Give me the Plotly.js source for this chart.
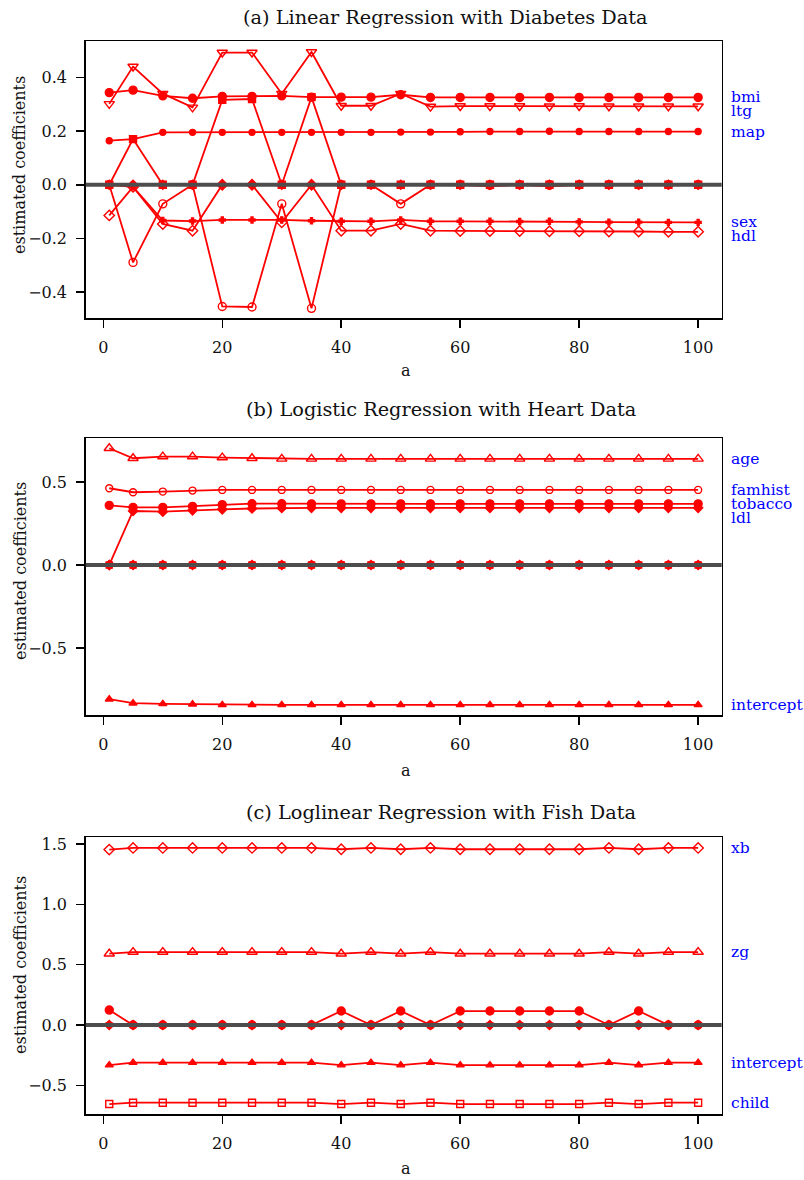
<!DOCTYPE html>
<html><head><meta charset="utf-8">
<script src="https://cdn.plot.ly/plotly-3.0.1.min.js"></script>
<style>html,body{margin:0;padding:0;background:#fff}</style>
</head><body><div id="chart" style="width:804px;height:1180px"></div>
<script>
// ---------- data ----------
const aVals = [1,5,10,15,20,25,30,35,40,45,50,55,60,65,70,75,80,85,90,95,100];

// (a) Diabetes
const diabBmi = [0.343,0.352,0.331,0.322,0.329,0.329,0.331,0.326,0.326,0.326,0.335,0.325,0.325,0.325,0.325,0.325,0.325,0.325,0.325,0.325,0.325];
const diabLtg = [0.301,0.440,0.339,0.288,0.492,0.492,0.339,0.494,0.294,0.294,0.339,0.291,0.293,0.293,0.293,0.292,0.293,0.292,0.292,0.292,0.292];
const diabMap = [0.164,0.170,0.195,0.195,0.195,0.195,0.195,0.195,0.195,0.195,0.196,0.196,0.197,0.198,0.198,0.199,0.198,0.198,0.198,0.198,0.198];
const diabSex = [0,-0.008,-0.133,-0.135,-0.131,-0.131,-0.131,-0.134,-0.136,-0.136,-0.131,-0.136,-0.136,-0.136,-0.137,-0.136,-0.138,-0.139,-0.139,-0.140,-0.140];
const diabHdl = [-0.114,-0.008,-0.146,-0.171,0,0,-0.140,0,-0.171,-0.171,-0.146,-0.171,-0.172,-0.172,-0.172,-0.173,-0.173,-0.174,-0.174,-0.175,-0.175];
const diabTc  = [0,-0.289,-0.071,0,-0.453,-0.455,-0.071,-0.460,0,0,-0.071,0,0,0,0,0,0,0,0,0,0];
const diabLdl = [0,0.170,0,0,0.316,0.319,0,0.326,0,0,0,0,0,0,0,0,0,0,0,0,0];
const diabAge = [0,0,0,0,0,0,0,0,0,0,0,0,0,0,0,0,0,0,0,0,0];
const diabTch = [0,0,0,0,0,0,0,0,0,0,0,0,0,0,0,0,0,0,0,0,0];
const diabGlu = [0,0,0,0,0,0,0,0,0,0,0,0,0,-0.006,0,-0.006,0,0,0,0,0];

// (b) Heart
const heartAge = [0.703,0.643,0.653,0.653,0.647,0.643,0.639,0.639,0.639,0.639,0.639,0.639,0.639,0.639,0.639,0.639,0.639,0.639,0.639,0.639,0.639];
const heartFamhist = [0.462,0.438,0.442,0.448,0.452,0.452,0.452,0.452,0.452,0.452,0.452,0.452,0.452,0.452,0.452,0.452,0.452,0.452,0.452,0.452,0.452];
const heartTobacco = [0.359,0.347,0.347,0.353,0.363,0.369,0.369,0.368,0.368,0.368,0.368,0.368,0.368,0.368,0.368,0.368,0.368,0.368,0.368,0.368,0.368];
const heartLdl = [0,0.325,0.321,0.329,0.335,0.340,0.343,0.344,0.344,0.344,0.344,0.344,0.344,0.344,0.344,0.344,0.344,0.344,0.344,0.344,0.344];
const heartIntercept = [-0.809,-0.833,-0.837,-0.839,-0.843,-0.843,-0.843,-0.843,-0.843,-0.843,-0.843,-0.843,-0.843,-0.843,-0.843,-0.843,-0.843,-0.843,-0.843,-0.843,-0.843];
const heartSbp = [0,0,0,0,0,0,0,0,0,0,0,0,0,0,0,0,0,0,0,0,0];
const heartAdiposity = [0,0,0,0,0,0,0,0,0,0,0,0,0,0,0,0,0,0,0,0,0];
const heartTypea = [0,0,0,0,0,0,0,0,0,0,0,0,0,0,0,0,0,0,0,0,0];
const heartObesity = [0,0,0,0,0,0,0,0,0,0,0,0,0,0,0,0,0,0,0,0,0];
const heartAlcohol = [0,0,0,0,0,0,0,0,0,0,0,0,0,0,0,0,0,0,0,0,0];

// (c) Fish
const fishXb = [1.454,1.468,1.468,1.468,1.468,1.468,1.468,1.468,1.457,1.468,1.457,1.468,1.457,1.457,1.457,1.457,1.457,1.468,1.457,1.468,1.468];
const fishZg = [0.591,0.605,0.605,0.605,0.605,0.605,0.605,0.605,0.591,0.605,0.591,0.605,0.591,0.591,0.591,0.591,0.591,0.605,0.591,0.605,0.605];
const fishCamper = [0.124,0,0,0,0,0,0,0,0.116,0,0.116,0,0.116,0.116,0.116,0.116,0.116,0,0.116,0,0];
const fishIntercept = [-0.332,-0.312,-0.312,-0.312,-0.312,-0.312,-0.312,-0.312,-0.332,-0.312,-0.332,-0.312,-0.332,-0.332,-0.332,-0.332,-0.332,-0.312,-0.332,-0.312,-0.312];
const fishChild = [-0.655,-0.644,-0.644,-0.644,-0.644,-0.644,-0.644,-0.644,-0.655,-0.644,-0.655,-0.644,-0.655,-0.655,-0.655,-0.655,-0.655,-0.644,-0.655,-0.644,-0.644];
const fishNofish = [0,0,0,0,0,0,0,0,0,0,0,0,0,0,0,0,0,0,0,0,0];
const fishLivebait = [0,0,0,0,0,0,0,0,0,0,0,0,0,0,0,0,0,0,0,0,0];
const fishPersons = [0,0,0,0,0,0,0,0,0,0,0,0,0,0,0,0,0,0,0,0,0];

const panelTitles = ["(a) Linear Regression with Diabetes Data","(b) Logistic Regression with Heart Data","(c) Loglinear Regression with Fish Data"];
const xTicks = [0,20,40,60,80,100];

// ---------- layout geometry (pixels) ----------
const W = 804, H = 1180;
const X0 = 85.7, X1 = 721.7;
const panels = [
  {top:41,   bot:318.3,  range:[-0.497,0.535], dtick:0.2, titleY:17,  xlabY:370,  ylabY:165},
  {top:438.3,bot:715,    range:[-0.904,0.763], dtick:0.5, titleY:410, xlabY:770,  ylabY:571},
  {top:837.3,bot:1114.3, range:[-0.740,1.556], dtick:0.5, titleY:812, xlabY:1168, ylabY:965}
];
const titleX = [241,244,244];

const RED = '#ff0000';
const FONT = 'DejaVu Serif, Liberation Serif, serif';

const series = [
  // panel, name, values, symbol, size, labelled
  [0,'bmi',diabBmi,'circle',8,true],
  [0,'ltg',diabLtg,'triangle-down-open',9,true],
  [0,'map',diabMap,'circle',6,true],
  [0,'sex',diabSex,'cross',5,true],
  [0,'hdl',diabHdl,'diamond-open',8,true],
  [0,'tc',diabTc,'circle-open',8,false],
  [0,'ldl',diabLdl,'square',7,false],
  [0,'age',diabAge,'diamond',7,false],
  [0,'tch',diabTch,'triangle-up',7,false],
  [0,'glu',diabGlu,'circle',6,false],
  [1,'age',heartAge,'triangle-up-open',9,true],
  [1,'famhist',heartFamhist,'circle-open',7,true],
  [1,'tobacco',heartTobacco,'circle',8,true],
  [1,'ldl',heartLdl,'diamond',7,true],
  [1,'intercept',heartIntercept,'triangle-up',7,true],
  [1,'sbp',heartSbp,'circle',7,false],
  [1,'adiposity',heartAdiposity,'diamond',7,false],
  [1,'typea',heartTypea,'triangle-down',7,false],
  [1,'obesity',heartObesity,'square',6,false],
  [1,'alcohol',heartAlcohol,'circle',6,false],
  [2,'xb',fishXb,'diamond-open',8,true],
  [2,'zg',fishZg,'triangle-up-open',9,true],
  [2,'camper',fishCamper,'circle',8,false],
  [2,'intercept',fishIntercept,'triangle-up',7,true],
  [2,'child',fishChild,'square-open',7,true],
  [2,'nofish',fishNofish,'diamond',7,false],
  [2,'livebait',fishLivebait,'triangle-down',7,false],
  [2,'persons',fishPersons,'circle',6,false]
];

const traces = series.map(s => ({
  type:'scatter', mode:'lines+markers', x:aVals, y:s[2], name:s[1],
  xaxis: s[0]===0?'x':('x'+(s[0]+1)), yaxis: s[0]===0?'y':('y'+(s[0]+1)),
  line:{color:RED,width:1.8},
  marker:{symbol:s[3],size:s[4],color:RED,line:{color:RED,width:1.4}},
  showlegend:false, hoverinfo:'skip'
}));

const layout = {
  width:W, height:H, margin:{l:0,r:0,t:0,b:0},
  paper_bgcolor:'#fff', plot_bgcolor:'#fff', showlegend:false,
  font:{family:FONT,size:16,color:'#111'},
  annotations:[], shapes:[]
};

panels.forEach((p,i) => {
  const sfx = i===0?'':String(i+1);
  layout['xaxis'+sfx] = {
    domain:[X0/W, X1/W], range:[-2.96,103.96], anchor:'y'+sfx,
    tickvals:xTicks, ticks:'outside', ticklen:8, tickwidth:1.5, tickcolor:'#000',
    showline:true, mirror:true, linecolor:'#000', linewidth:1.5,
    showgrid:false, zeroline:false, ticklabelstandoff:6,
    tickfont:{family:FONT,size:16,color:'#111'}
  };
  layout['yaxis'+sfx] = {
    domain:[1-p.bot/H, 1-p.top/H], range:p.range, anchor:'x'+sfx,
    dtick:p.dtick, tick0:0, tickformat:'.1f', ticks:'outside', ticklen:8, tickwidth:1.5, tickcolor:'#000',
    showline:true, mirror:true, linecolor:'#000', linewidth:1.5,
    showgrid:false, zeroline:false, ticklabelstandoff:6,
    tickfont:{family:FONT,size:16,color:'#111'}
  };
  // zero reference line
  layout.shapes.push({type:'line', xref:'x'+sfx+' domain', yref:'y'+sfx, x0:0, x1:1, y0:0, y1:0,
    line:{color:'#4d4d4d',width:4}, layer:'above'});
  // titles
  layout.annotations.push({text:panelTitles[i], xref:'paper', yref:'paper', x:titleX[i]/W, y:1-p.titleY/H,
    xanchor:'left', yanchor:'middle', showarrow:false, font:{family:FONT,size:19.3,color:'#111'}});
  layout.annotations.push({text:'a', xref:'paper', yref:'paper', x:406/W, y:1-p.xlabY/H,
    xanchor:'center', yanchor:'middle', showarrow:false, font:{family:FONT,size:16,color:'#111'}});
  layout.annotations.push({text:'estimated coefficients', xref:'paper', yref:'paper', x:20/W, y:1-p.ylabY/H,
    xanchor:'center', yanchor:'middle', textangle:-90, showarrow:false, font:{family:FONT,size:16,color:'#111'}});

  // right-side labels at final values, pushed apart downward when they would collide
  const pxPerUnit = (p.bot-p.top)/(p.range[1]-p.range[0]);
  const labs = series.filter(s => s[0]===i && s[5]).map(s => ({name:s[1], px: p.top + (p.range[1]-s[2][s[2].length-1])*pxPerUnit}));
  labs.sort((u,v)=>u.px-v.px);
  const gap = 14;
  labs.forEach((l,k)=>{ l.pos = k===0 ? l.px : Math.max(l.px, labs[k-1].pos+gap); });
  labs.forEach(l => layout.annotations.push({text:l.name, xref:'paper', yref:'paper', x:729/W, y:1-l.pos/H,
    xanchor:'left', yanchor:'middle', showarrow:false, font:{family:FONT,size:15.5,color:'#0000ff'}}));
});

Plotly.newPlot('chart', traces, layout, {staticPlot:true, displayModeBar:false});
</script></body></html>
